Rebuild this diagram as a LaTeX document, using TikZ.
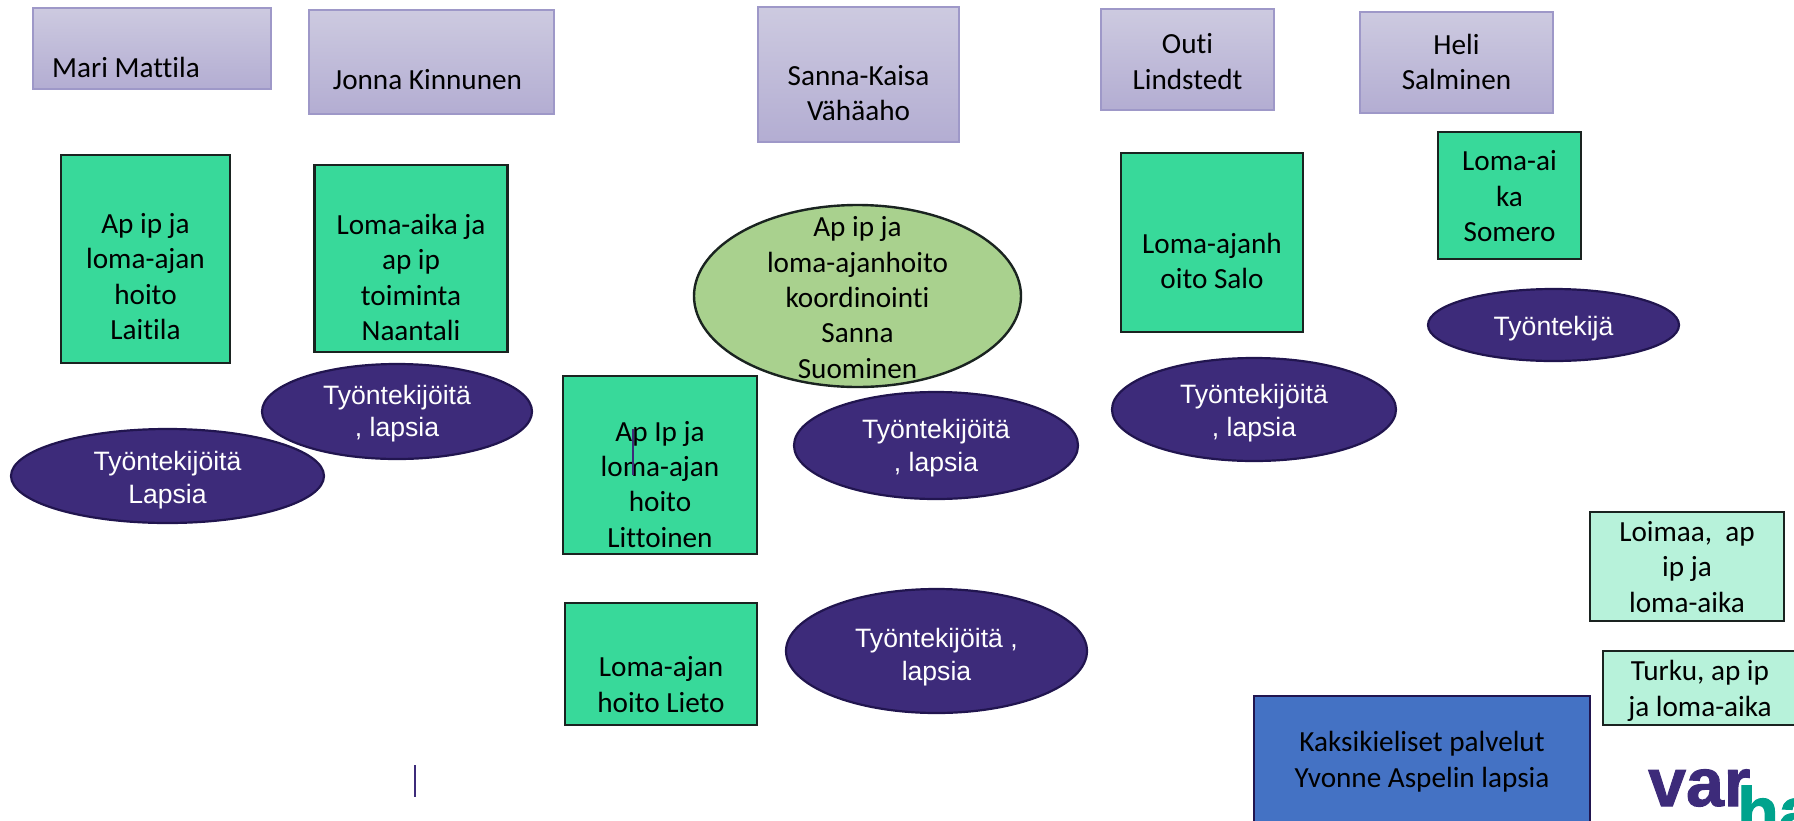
\documentclass[tikz,border=0pt]{standalone}
\usepackage{fontspec}
\usepackage{xcolor}
\setmainfont[Ligatures=NoCommon]{Carlito}
\newfontfamily\arialfont{Liberation Sans}
\newfontfamily\logofont[BoldFeatures={FakeBold=1.5}]{Liberation Sans}
\usetikzlibrary{shapes.geometric}
\definecolor{namehigh}{HTML}{CDCAE0}
\definecolor{namelow}{HTML}{B3ADD2}
\definecolor{nameedge}{HTML}{9E98C8}
\definecolor{unitgreen}{HTML}{38D99A}
\definecolor{unitedge}{HTML}{1A2320}
\definecolor{staffviolet}{HTML}{3D2B7A}
\definecolor{staffedge}{HTML}{21154F}
\definecolor{leadgreen}{HTML}{A9D18E}
\definecolor{mint}{HTML}{B7F2DA}
\definecolor{bilingblue}{HTML}{4472C4}
\definecolor{logoteal}{HTML}{00A38D}

\begin{document}
\begin{tikzpicture}[x=1pt, y=-1pt,
    every node/.style = {inner sep=0pt, align=center,
      font=\fontsize{29.2}{35.3}\selectfont},
    shapesize/.style n args = {3}{minimum width=#1pt, minimum height=#2pt,
      text height=#3pt, text depth=0pt},
    namebox/.style = {rectangle, draw=nameedge, line width=1.6pt,
      top color=namehigh, bottom color=namelow},
    unitbox/.style = {rectangle, draw=unitedge, line width=2.4pt, fill=unitgreen},
    cityBox/.style = {rectangle, draw=unitedge, line width=2.4pt, fill=mint},
    bilingbox/.style = {rectangle, draw=staffedge, line width=2.4pt, fill=bilingblue},
    leadoval/.style = {ellipse, draw=unitedge, line width=2.4pt, fill=leadgreen},
    staffoval/.style = {ellipse, draw=staffedge, line width=2.2pt, fill=staffviolet,
      text=white, font=\arialfont\fontsize{26.6}{32.5}\selectfont},
    logotext/.style = {anchor=base west,
      font=\logofont\bfseries\fontsize{68}{68}\selectfont}]
  \useasboundingbox (0,0) rectangle (1794,820);

  \node[namebox, shapesize={238}{81}{58}] (mari) at (152,48.5) {\kern-26pt Mari Mattila\kern26pt};
  \node[namebox, shapesize={245}{104}{54}] (jonna) at (431.5,62) {\kern-4pt Jonna Kinnunen\kern4pt};
  \node[namebox, shapesize={201}{135}{92}] (sanna) at (858.5,74.5) {Sanna-Kaisa\\Vähäaho};
  \node[namebox, shapesize={173}{101}{59}] (outi) at (1187.5,59.5) {Outi\\Lindstedt};
  \node[namebox, shapesize={193}{101}{54}] (heli) at (1456.5,62.5) {Heli\\Salminen};

  \node[unitbox, shapesize={169}{208}{161}] (laitila) at (145.5,259) {Ap ip ja\\loma-ajan\\hoito\\Laitila};
  \node[unitbox, shapesize={193}{187}{164}] (naantali) at (411,258.5) {Loma-aika ja\\ap ip\\toiminta\\Naantali};
  \node[unitbox, shapesize={182}{179}{92}] (salo) at (1212,242.5) {Loma-ajanh\\oito Salo};
  \node[unitbox, shapesize={143}{127}{92}] (somero) at (1509.5,195.5) {Loma-ai\\ka\\Somero};
  \node[leadoval, shapesize={327}{182}{0}] (koordinointi) at (857.5,296) {};
  \node[anchor=base] (koordinointi text) at (857.5,378) {Ap ip ja\\loma-ajanhoito\\koordinointi\\Sanna\\Suominen};
  \node[unitbox, shapesize={194}{178}{164}] (littoinen) at (660,465) {Ap Ip ja\\loma-ajan\\hoito\\Littoinen};
  \node[unitbox, shapesize={192}{122}{96}] (lieto) at (661,664) {Loma-ajan\\hoito Lieto};

  \node[staffoval, shapesize={313}{94}{54}] (laitila staff) at (167.5,476) {Työntekijöitä\\Lapsia};
  \node[staffoval, shapesize={270}{95}{50}] (naantali staff) at (397,411.5) {Työntekijöitä\\, lapsia};
  \node[staffoval, shapesize={284}{107}{51}] (littoinen staff) at (936,445.5) {Työntekijöitä\\, lapsia};
  \node[staffoval, shapesize={301}{124}{58}] (lieto staff) at (936.5,651) {Työntekijöitä ,\\lapsia};
  \node[staffoval, shapesize={284}{103}{53}] (salo staff) at (1254,409.5) {Työntekijöitä\\, lapsia};
  \node[staffoval, shapesize={251}{72}{20}] (somero staff) at (1553.5,325) {Työntekijä};

  \node[cityBox, shapesize={193.5}{109}{91}] (loimaa) at (1687,566.5) {Loimaa,~ ap\\ip ja\\loma-aika};
  \node[cityBox, shapesize={194}{74}{56}] (turku) at (1700,688) {Turku, ap ip\\ja loma-aika};
  \node[bilingbox, shapesize={336.5}{130}{52}] (kaksi) at (1422,761) {Kaksikieliset palvelut\\Yvonne Aspelin lapsia};

  \node[logotext, text=staffviolet] (logovar) at (1648,806) {var};
  \node[logotext, text=logoteal] (logoha) at (1737,835) {ha};

  \coordinate (marka) at (632.7,429);
  \coordinate (markb) at (632.7,475);
  \coordinate (markc) at (414.7,765);
  \coordinate (markd) at (414.7,797);
  \draw[staffviolet, line width=1.8pt] (marka) -- (markb);
  \draw[staffviolet, line width=1.8pt] (markc) -- (markd);
\end{tikzpicture}
\end{document}
